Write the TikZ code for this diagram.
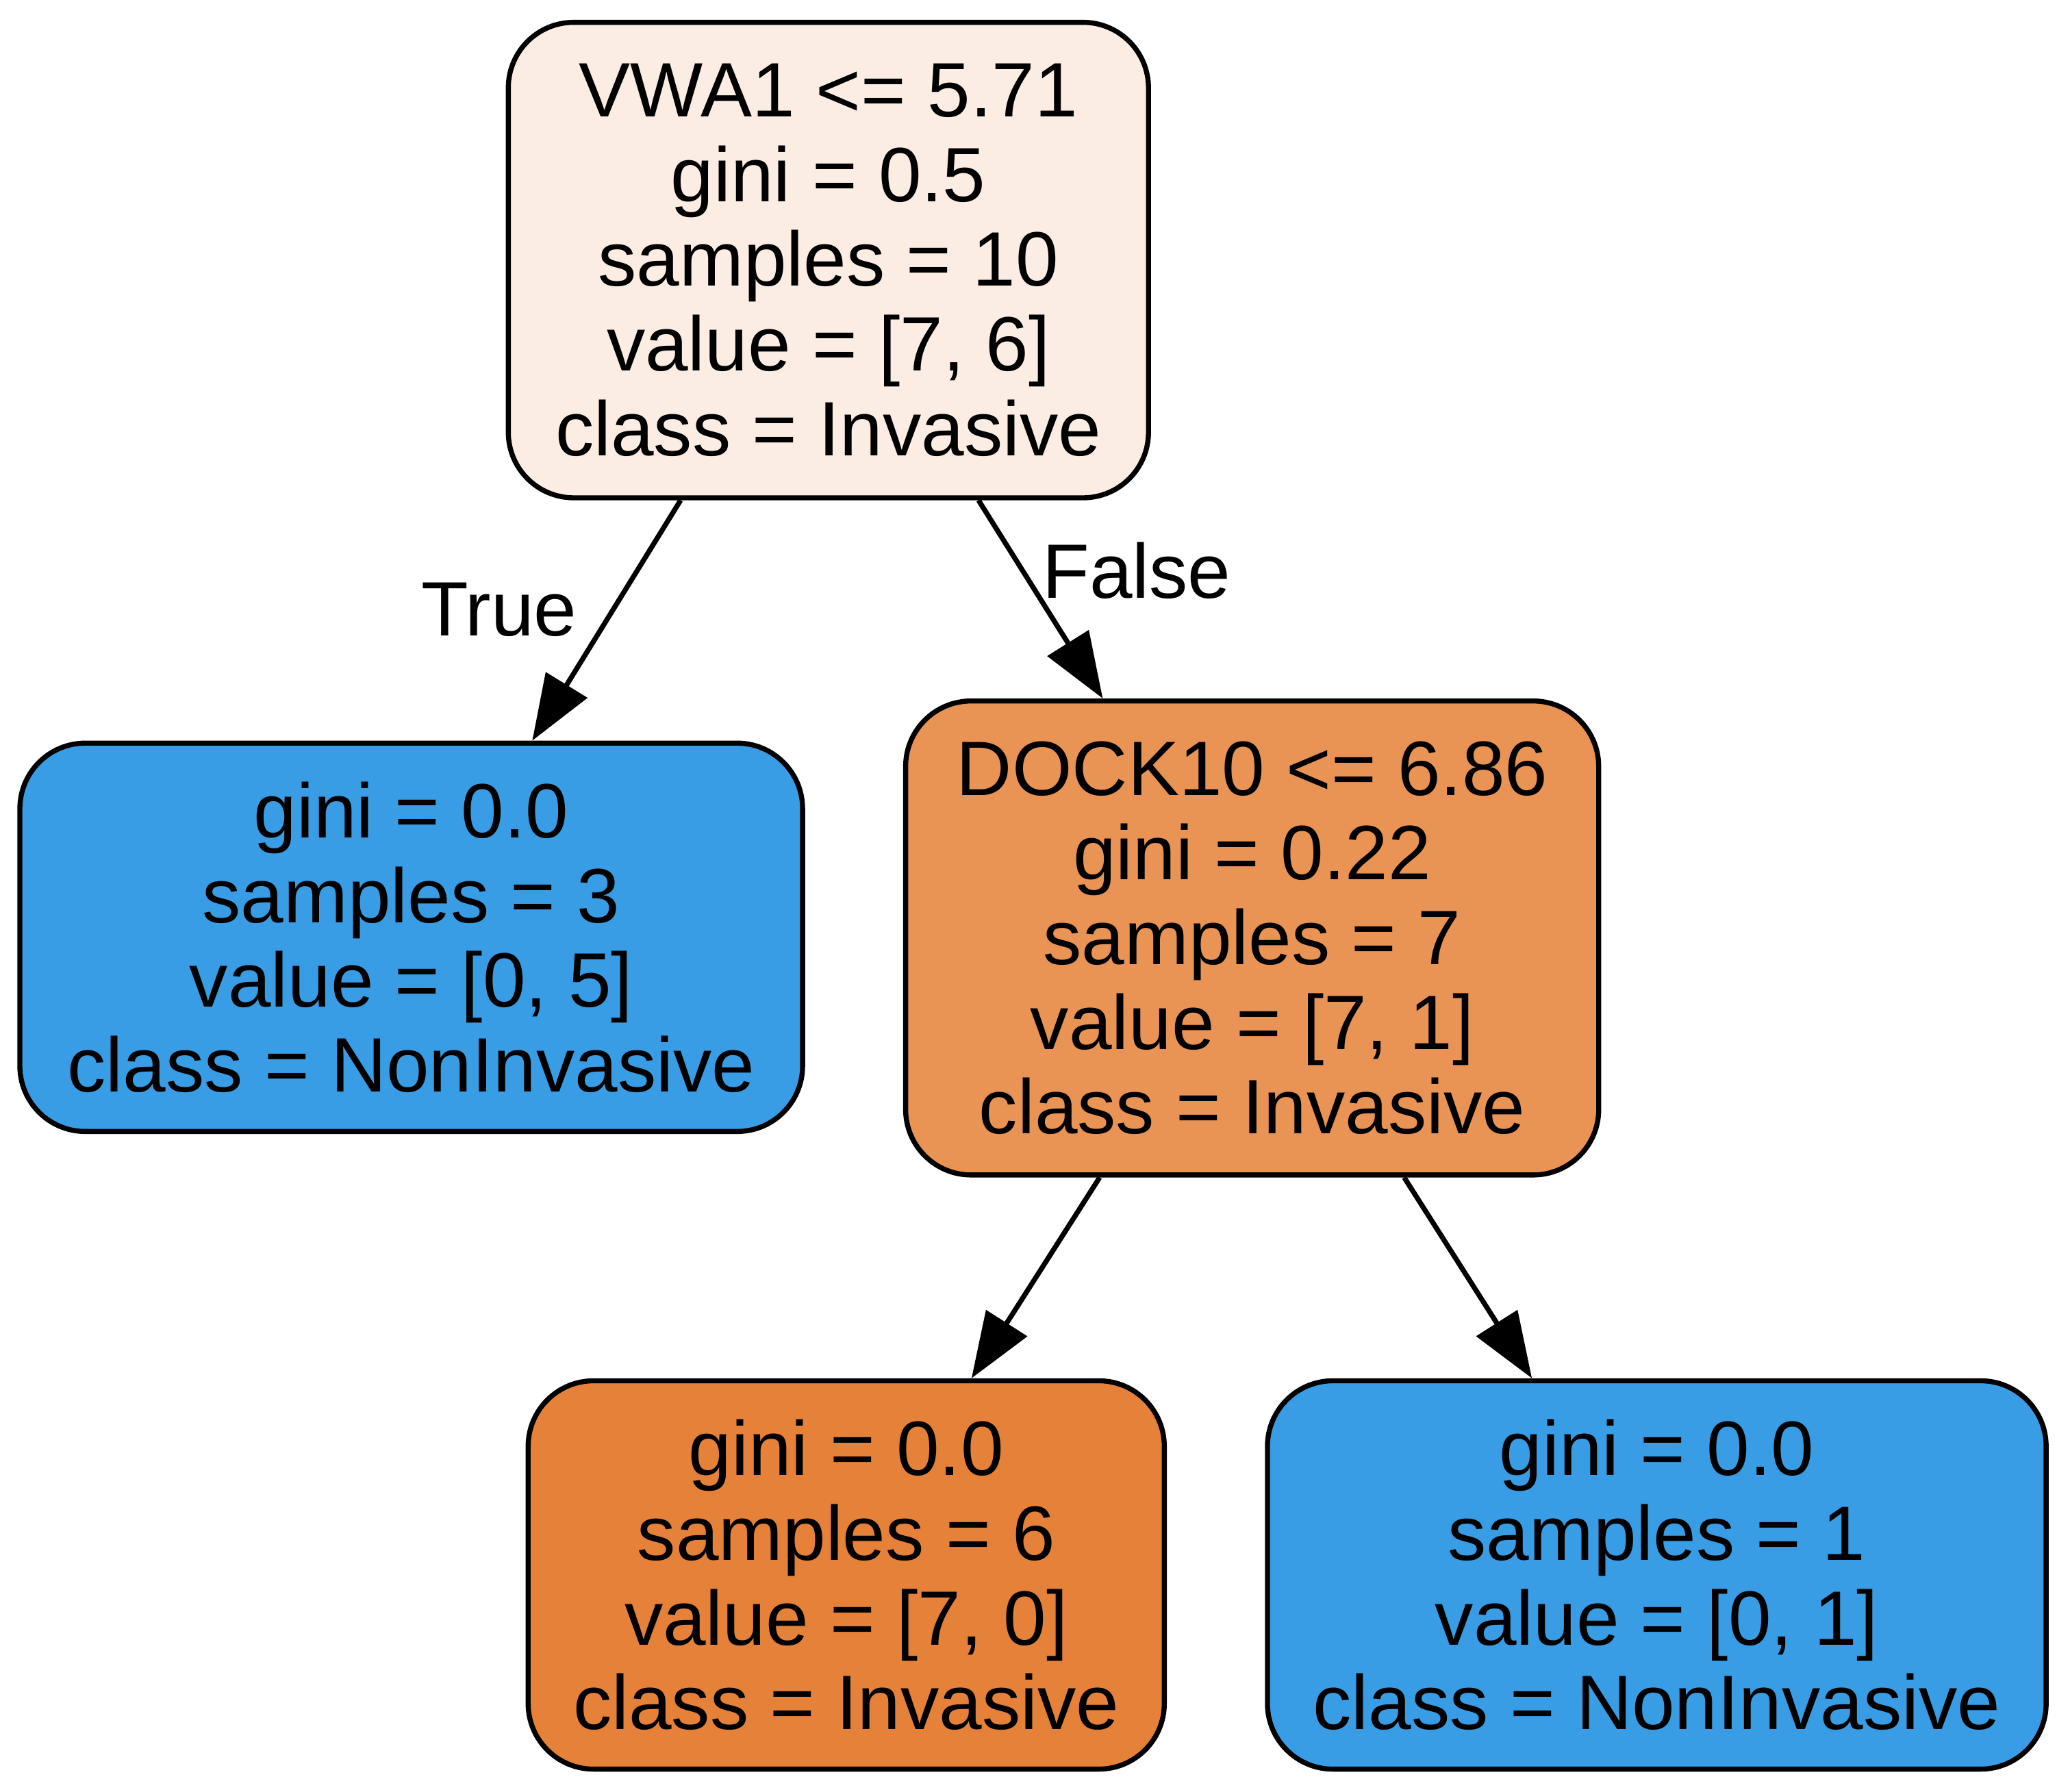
\documentclass[tikz,border=0pt]{standalone}
\usepackage{fontspec}
\setmainfont{Liberation Sans}
\usetikzlibrary{arrows.meta}
\definecolor{rootfill}{HTML}{FBEDE3}
\definecolor{bluefill}{HTML}{399DE5}
\definecolor{midorange}{HTML}{E99355}
\definecolor{fullorange}{HTML}{E58139}
\tikzset{
  treenode/.style={draw=black, line width=1pt, rounded corners=13pt, align=center,
    inner sep=0pt, font=\fontsize{15.3}{16.8}\selectfont},
  edgelabel/.style={font=\fontsize{15.3}{16.8}\selectfont, inner sep=0pt},
  treeedge/.style={line width=1pt, -{Triangle[length=13pt,width=9.5pt]}}
}
\begin{document}
\begin{tikzpicture}[x=0.2621pt,y=-0.2621pt]
\useasboundingbox (0,0) rectangle (1568,1357);
\node[treenode, fill=rootfill, minimum width=127.1pt, minimum height=94.4pt] (root) at (627.5,197)
  {VWA1 <= 5.71\\gini = 0.5\\samples = 10\\value = [7, 6]\\class = Invasive};
\node[treenode, fill=bluefill, minimum width=155.4pt, minimum height=77.1pt] (left) at (311.5,710)
  {gini = 0.0\\samples = 3\\value = [0, 5]\\class = NonInvasive};
\node[treenode, fill=midorange, minimum width=137.6pt, minimum height=94.1pt] (dock) at (948.5,710.5)
  {DOCK10 <= 6.86\\gini = 0.22\\samples = 7\\value = [7, 1]\\class = Invasive};
\node[treenode, fill=fullorange, minimum width=126.3pt, minimum height=77.1pt] (bl) at (641,1193)
  {gini = 0.0\\samples = 6\\value = [7, 0]\\class = Invasive};
\node[treenode, fill=bluefill, minimum width=154.6pt, minimum height=77.1pt] (br) at (1255,1193)
  {gini = 0.0\\samples = 1\\value = [0, 1]\\class = NonInvasive};
\draw[treeedge] (root) -- (left);
\draw[treeedge] (root) -- (dock);
\draw[treeedge] (dock) -- (bl);
\draw[treeedge] (dock) -- (br);
\node[edgelabel] (truelab) at (378,462) {True};
\node[edgelabel] (falselab) at (861,432) {False};
\end{tikzpicture}
\end{document}
